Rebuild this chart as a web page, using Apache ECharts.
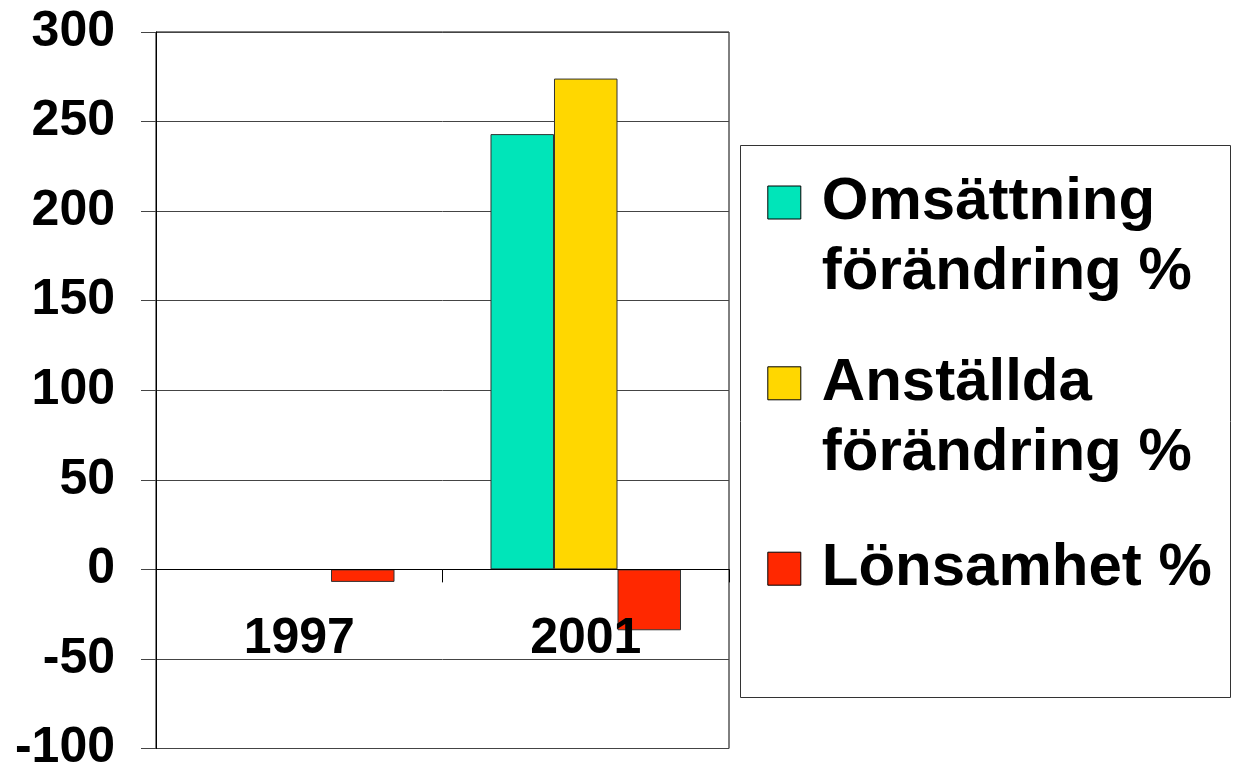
<!DOCTYPE html>
<html><head><meta charset="utf-8">
<script src="https://cdn.jsdelivr.net/npm/echarts@6/dist/echarts.min.js"></script>
<style>html,body{margin:0;padding:0;background:#fff}#c{width:1235px;height:764px}</style>
</head><body><div id="c"></div>
<script>
const categories = ['1997', '2001'];
const seriesNames = ['Omsättning\nförändring %', 'Anställda\nförändring %', 'Lönsamhet %'];
const omsattning = [null, 243];
const anstallda = [null, 274];
const lonsamhet = [-7, -34];
const colors = ['#00E5B9', '#FFD700', '#FF2800'];
const yMin = -100, yMax = 300, yInterval = 50;

const FONT = "'Liberation Sans', Arial, sans-serif";
const chart = echarts.init(document.getElementById('c'), null, {renderer: 'canvas'});

const gridTop = 32, gridBottom = 15.5, H = 764;
const gridH = H - gridTop - gridBottom;
// move x axis (line, ticks, labels) up to value 0
const xOffset = -gridH * (0 - yMin) / (yMax - yMin);

const legendTops = [97.5, 278.3, 533.7];

chart.setOption({
  animation: false,
  backgroundColor: '#fff',
  color: colors,
  grid: {left: 156, right: 506, top: gridTop, bottom: gridBottom, show: true, borderColor: '#000', borderWidth: 1, containLabel: false, outerBoundsMode: 'none'},
  xAxis: {
    type: 'category', data: categories, z: 3, position: 'bottom', offset: xOffset,
    axisLine: {onZero: false, lineStyle: {color: '#000', width: 1}},
    axisTick: {show: true, length: 13, lineStyle: {color: '#000'}},
    axisLabel: {fontSize: 50, fontWeight: 'bold', fontFamily: FONT, color: '#000', margin: 45},
    splitLine: {show: false}
  },
  yAxis: {
    type: 'value', min: yMin, max: yMax, interval: yInterval,
    axisLine: {show: true, lineStyle: {color: '#000'}},
    axisTick: {show: true, length: 15, lineStyle: {color: '#444'}},
    axisLabel: {fontSize: 50, fontWeight: 'bold', fontFamily: FONT, color: '#000', margin: 41, padding: [0, 0, 8, 0]},
    splitLine: {show: true, lineStyle: {color: '#444', width: 1}}
  },
  legend: seriesNames.map((n, i) => ({
    data: [n],
    orient: 'vertical', left: 767.3, top: legendTops[i], padding: 0,
    itemWidth: 33, itemHeight: 33, itemGap: 0, icon: 'rect', selectedMode: false,
    itemStyle: {borderColor: '#000', borderWidth: 1},
    formatter: name => (name.indexOf('\n') >= 0 ? '\n' : '') + name,
    textStyle: {fontSize: 60, fontWeight: 'bold', fontFamily: FONT, color: '#000', lineHeight: 70, padding: [0, 0, 0, 16]}
  })),
  graphic: [{
    type: 'rect', shape: {x: 740.5, y: 145.5, width: 490, height: 552},
    style: {fill: 'none', stroke: '#333', lineWidth: 1}, silent: true
  }],
  series: [omsattning, anstallda, lonsamhet].map((d, i) => ({
    type: 'bar', name: seriesNames[i], data: d,
    barGap: '0%', barCategoryGap: '33.5%',
    itemStyle: {color: colors[i], borderColor: '#333', borderWidth: 1}
  }))
});
</script>
</body></html>
